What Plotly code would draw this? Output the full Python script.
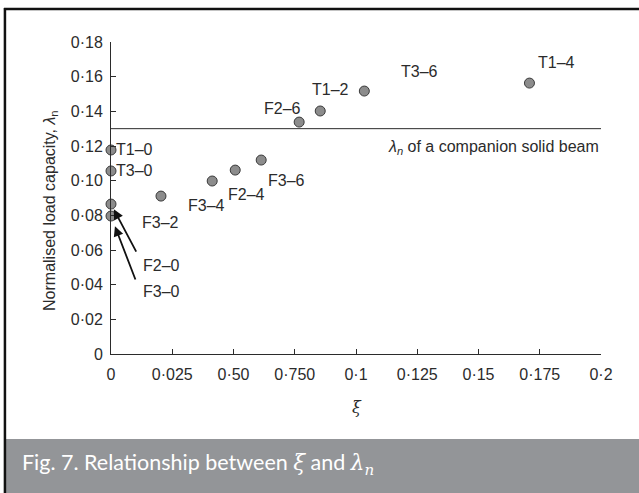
import plotly.graph_objects as go

# ---------------- data ----------------
labels = ["T1–0", "T3–0", "F2–0", "F3–0", "F3–2", "F3–4", "F2–4", "F3–6",
          "F2–6", "T1–2", "T3–6", "T1–4"]
xi = [0.0, 0.0, 0.0, 0.0, 0.0204, 0.0413, 0.0507, 0.0613,
      0.0768, 0.0854, 0.1034, 0.1708]
lam = [0.1177, 0.1056, 0.0865, 0.0796, 0.0911, 0.0998, 0.1061, 0.1119,
       0.1338, 0.1402, 0.1517, 0.1563]
solid_beam = 0.13

x_tickvals = [0, 0.025, 0.05, 0.075, 0.1, 0.125, 0.15, 0.175, 0.2]
x_ticktext = ["0", "0·025", "0·50", "0·750", "0·1", "0·125", "0·15", "0·175", "0·2"]
y_tickvals = [0, 0.02, 0.04, 0.06, 0.08, 0.10, 0.12, 0.14, 0.16, 0.18]
y_ticktext = ["0", "0·02", "0·04", "0·06", "0·08", "0·10", "0·12", "0·14", "0·16", "0·18"]

# ---------------- layout geometry (pixels) ----------------
W, H = 639, 493
L, R, T, B = 111, 600.7, 42, 354


def px(xp):
    return (xp - L) / (R - L)


def py(yp):
    return (B - yp) / (B - T)


FONT = "Liberation Sans, Arial, Helvetica, sans-serif"
SERIF = "DejaVu Serif, Liberation Serif, serif"
INK = "#2b2b2b"

fig = go.Figure()
fig.add_trace(go.Scatter(
    x=xi, y=lam, mode="markers",
    marker=dict(size=10, color="#8c8c8c", line=dict(color="#3a3a3a", width=1)),
    hoverinfo="skip", showlegend=False, cliponaxis=False,
))

# label offsets (pixel shifts from each point): style only
label_style = {
    "T1–0": dict(xanchor="left", xshift=3, yshift=0),
    "T3–0": dict(xanchor="left", xshift=3, yshift=0),
    "F3–2": dict(xanchor="center", xshift=0, yshift=-26),
    "F3–4": dict(xanchor="center", xshift=-6, yshift=-24),
    "F2–4": dict(xanchor="center", xshift=11, yshift=-24),
    "F3–6": dict(xanchor="center", xshift=25, yshift=-20),
    "F2–6": dict(xanchor="center", xshift=-17, yshift=14),
    "T1–2": dict(xanchor="center", xshift=10, yshift=21),
    "T3–6": dict(xanchor="center", xshift=55, yshift=20),
    "T1–4": dict(xanchor="center", xshift=27, yshift=21),
}
annotations = []
for name, x, y in zip(labels, xi, lam):
    if name in label_style:
        s = label_style[name]
        annotations.append(dict(
            x=x, y=y, xref="x", yref="y", text=name, showarrow=False,
            yanchor="middle", font=dict(family=FONT, size=16, color=INK), **s))

# arrowed labels for F2-0 and F3-0
arrow_style = {
    "F2–0": dict(ax=26, ay=49, standoff=6, tx=30, ty=61),
    "F3–0": dict(ax=25, ay=65, standoff=11, tx=30, ty=75),
}
for name, x, y in zip(labels, xi, lam):
    if name in arrow_style:
        s = arrow_style[name]
        annotations.append(dict(
            x=x, y=y, xref="x", yref="y", text="", showarrow=True,
            ax=s["ax"], ay=s["ay"], axref="pixel", ayref="pixel",
            arrowhead=2, arrowsize=1.1, arrowwidth=1.8, arrowcolor="#111",
            standoff=s["standoff"]))
        annotations.append(dict(
            x=x, y=y, xref="x", yref="y", text=name, showarrow=False,
            xanchor="left", yanchor="middle", xshift=s["tx"], yshift=-s["ty"],
            font=dict(family=FONT, size=16, color=INK)))

# solid beam line label
annotations.append(dict(
    x=1.0, y=solid_beam, xref="paper", yref="y",
    text="<i>λ<sub>n</sub></i> of a companion solid beam", showarrow=False,
    xanchor="right", yanchor="middle", yshift=-19,
    font=dict(family=FONT, size=16, color=INK)))

# axis titles
annotations.append(dict(
    x=px(50), y=py(210), xref="paper", yref="paper",
    text="Normalised load capacity, <i>λ</i><sub>n</sub>", showarrow=False,
    textangle=-90, xanchor="center", yanchor="middle",
    font=dict(family=FONT, size=16, color=INK)))
annotations.append(dict(
    x=px(357), y=py(407), xref="paper", yref="paper",
    text="<i>ξ</i>", showarrow=False, xanchor="center", yanchor="middle",
    font=dict(family=SERIF, size=16, color=INK)))

# caption
annotations.append(dict(
    x=px(20), y=py(464), xref="paper", yref="paper",
    text=("Fig. 7. Relationship between "
          f"<span style='font-family:{SERIF}'><i>ξ</i></span> and "
          f"<span style='font-family:{SERIF}'><i>λ<sub>n</sub></i></span>"),
    showarrow=False, xanchor="left", yanchor="middle",
    font=dict(family="Lato, Open Sans, sans-serif", size=21.5, color="white")))

shapes = [
    # solid beam reference line
    dict(type="line", xref="paper", yref="y", x0=0, x1=1, y0=solid_beam, y1=solid_beam,
         line=dict(color=INK, width=1)),
    # caption band
    dict(type="rect", xref="paper", yref="paper", x0=px(6), x1=px(640),
         y0=py(494), y1=py(439), fillcolor="#939598", line=dict(width=0), layer="below"),
    # frame lines
    dict(type="line", xref="paper", yref="paper", x0=px(4), x1=px(640), y0=py(9), y1=py(9),
         line=dict(color="#111", width=2.5)),
    dict(type="line", xref="paper", yref="paper", x0=px(5), x1=px(5), y0=py(8), y1=py(494),
         line=dict(color="#111", width=2.5)),
]

axis_common = dict(
    showgrid=False, zeroline=False, showline=True, linecolor=INK, linewidth=1,
    ticks="inside", ticklen=5, tickwidth=1, tickcolor=INK,
    tickfont=dict(family=FONT, size=16, color=INK),
)

fig.update_layout(
    width=W, height=H,
    margin=dict(l=L, r=W - R, t=T, b=H - B, pad=0),
    paper_bgcolor="white", plot_bgcolor="white",
    xaxis=dict(range=[0, 0.2], tickmode="array", tickvals=x_tickvals, ticktext=x_ticktext,
               ticklabelstandoff=6, fixedrange=True, **axis_common),
    yaxis=dict(range=[0, 0.18], tickmode="array", tickvals=y_tickvals, ticktext=y_ticktext,
               ticklabelstandoff=4, fixedrange=True, **axis_common),
    annotations=annotations, shapes=shapes,
)

fig.write_html("out.html", config={"displayModeBar": False},
               post_script="document.body.style.margin='0px';document.body.style.padding='0px';")
